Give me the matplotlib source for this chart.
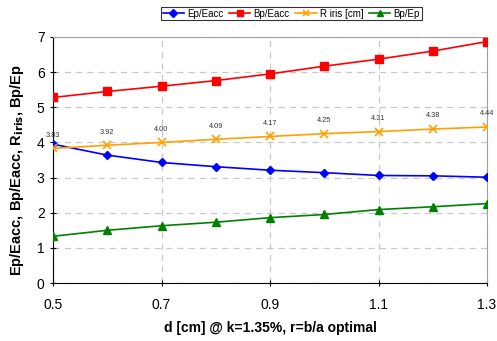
import matplotlib
matplotlib.use("Agg")
import matplotlib.pyplot as plt

d = [0.5, 0.6, 0.7, 0.8, 0.9, 1.0, 1.1, 1.2, 1.3]
ep_eacc = [3.95, 3.64, 3.43, 3.31, 3.21, 3.14, 3.06, 3.05, 3.01]
bp_eacc = [5.28, 5.45, 5.60, 5.76, 5.95, 6.17, 6.37, 6.60, 6.87]
r_iris = [3.83, 3.92, 4.00, 4.09, 4.17, 4.25, 4.31, 4.38, 4.44]
bp_ep = [1.33, 1.50, 1.63, 1.73, 1.86, 1.95, 2.09, 2.17, 2.26]
r_labels = ["3.83", "3.92", "4.00", "4.09", "4.17", "4.25", "4.31", "4.38", "4.44"]
xticks = [0.5, 0.7, 0.9, 1.1, 1.3]
yticks = [0, 1, 2, 3, 4, 5, 6, 7]

plt.rcParams['font.family'] = ['Liberation Sans', 'DejaVu Sans']

fig = plt.figure(figsize=(4.97, 3.41), dpi=100)
ax = fig.add_axes([0.1066, 0.17, 0.8734, 0.7215])

ax.plot(d, ep_eacc, color='#0000FF', marker='D', markersize=4.5, lw=1.2, label='Ep/Eacc', zorder=3)
ax.plot(d, bp_eacc, color='#FF0000', marker='s', markersize=5.5, lw=1.2, label='Bp/Eacc', zorder=3)
ax.plot(d, r_iris, color='#FFA000', marker='x', markersize=6, mew=1.2, lw=1.2, label='R iris [cm]', zorder=3)
ax.plot(d, bp_ep, color='#008000', marker='^', markersize=6, lw=1.2, label='Bp/Ep', zorder=3)

for x, y, t in zip(d, r_iris, r_labels):
    ax.annotate(t, (x, y), xytext=(0, 7), textcoords='offset points',
                ha='center', va='bottom', fontsize=5.3, color='#333333')

ax.set_xlim(0.5, 1.3)
ax.set_ylim(0, 7)
ax.set_xticks(xticks)
ax.set_xticklabels([f"{v:.1f}" for v in xticks])
ax.set_yticks(yticks)
ax.tick_params(axis='both', direction='inout', length=5, labelsize=10)
ax.tick_params(axis='x', pad=8)

ax.grid(True, color='#C8C8C8', linestyle=(0, (5, 4)), lw=0.9)
ax.set_axisbelow(True)
for s in ['top', 'right']:
    ax.spines[s].set_color('#A0A0A0')
for s in ['left', 'bottom']:
    ax.spines[s].set_color('black')

ax.set_xlabel('d [cm] @ k=1.35%, r=b/a optimal', fontsize=10, fontweight='bold', labelpad=7)
ax.set_ylabel(r'Ep/Eacc, Bp/Eacc, R$_{\mathbf{iris}}$, Bp/Ep', fontsize=10.5, fontweight='bold')
ax.yaxis.set_label_coords(-0.062, 0.46)

leg = fig.legend(loc='upper center', bbox_to_anchor=(0.586, 0.995), ncol=4, fontsize=7,
                 frameon=True, fancybox=False, edgecolor='black', handlelength=2.2,
                 columnspacing=0.6, handletextpad=0.3, borderpad=0.2, markerscale=0.8)
leg.get_frame().set_linewidth(0.8)

fig.savefig('out.png', dpi=100)
